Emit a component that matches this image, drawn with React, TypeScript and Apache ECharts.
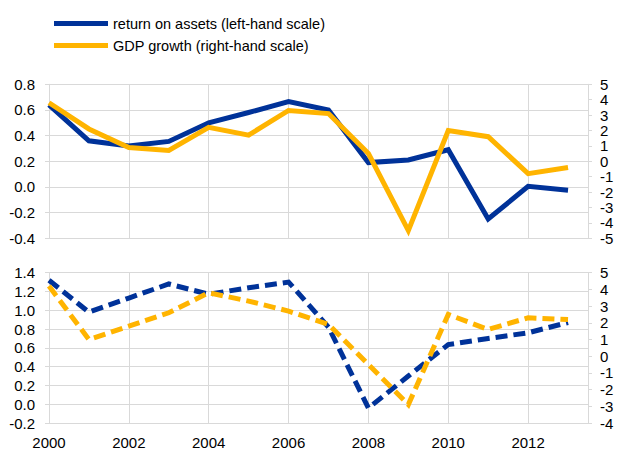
import React, { useEffect, useRef } from "react";
import * as echarts from "echarts";

const years = [2000, 2001, 2002, 2003, 2004, 2005, 2006, 2007, 2008, 2009, 2010, 2011, 2012, 2013];
const roaTop = [0.64, 0.36, 0.32, 0.355, 0.5, 0.58, 0.665, 0.6, 0.19, 0.21, 0.29, -0.25, 0.005, -0.025];
const gdpTop = [3.8, 2.1, 0.9, 0.7, 2.2, 1.7, 3.3, 3.1, 0.5, -4.5, 2.0, 1.6, -0.8, -0.4];
const roaBottom = [1.32, 0.98, 1.13, 1.28, 1.17, 1.24, 1.3, 0.82, -0.04, 0.3, 0.635, 0.7, 0.76, 0.87];
const gdpBottom = [4.2, 1.0, 1.8, 2.6, 3.8, 3.3, 2.7, 1.9, -0.5, -2.9, 2.5, 1.6, 2.3, 2.2];

const legendNames = ["return on assets (left-hand scale)", "GDP growth (right-hand scale)"];

const BLUE = "#003299";
const YELLOW = "#FFB400";
const GRID = "#d9d9d9";
const FONT = "Arial, 'Liberation Sans', sans-serif";

const pairs = (vals: number[]) => vals.map((v, i) => [years[i], v]);

export default function App() {
  const ref = useRef<HTMLDivElement>(null);
  useEffect(() => {
    if (!ref.current) return;
    const chart = echarts.init(ref.current, undefined, { renderer: "svg" });
    const label = { color: "#000", fontSize: 15, fontFamily: FONT };
    const xAxisBase = (gridIndex: number, showLabel: boolean) => ({
      type: "value",
      gridIndex,
      min: 2000,
      max: 2013.5,
      interval: 2,
      axisLine: { show: true, lineStyle: { color: GRID, width: 1 } },
      axisTick: { show: true, length: 4, lineStyle: { color: GRID } },
      splitLine: { show: true, lineStyle: { color: GRID, width: 1 } },
      axisLabel: {
        show: showLabel,
        ...label,
        margin: 12,
        formatter: (v: number) => (v % 2 === 0 ? String(v) : ""),
      },
    });
    const yLeft = (gridIndex: number, min: number, max: number) => ({
      type: "value",
      gridIndex,
      position: "left",
      min,
      max,
      interval: 0.2,
      axisLine: { show: true, lineStyle: { color: GRID } },
      axisTick: { show: true, length: 4, lineStyle: { color: GRID } },
      splitLine: { show: true, lineStyle: { color: GRID } },
      axisLabel: { ...label, margin: 14, formatter: (v: number) => v.toFixed(1) },
    });
    const yRight = (gridIndex: number, min: number, max: number) => ({
      type: "value",
      gridIndex,
      position: "right",
      min,
      max,
      interval: 1,
      axisLine: { show: true, lineStyle: { color: GRID } },
      axisTick: { show: true, length: 4, lineStyle: { color: GRID } },
      splitLine: { show: false },
      axisLabel: { ...label, margin: 12, formatter: (v: number) => String(Math.round(v)) },
    });
    const line = (name: string, data: number[][], color: string, xi: number, yi: number, dashed: boolean) => ({
      type: "line",
      name,
      data,
      xAxisIndex: xi,
      yAxisIndex: yi,
      symbol: "none",
      itemStyle: { color },
      lineStyle: { color, width: 5, type: dashed ? [12, 6] : "solid", join: "miter" },
      z: color === BLUE ? 3 : 4,
    });
    chart.setOption({
      animation: false,
      legend: {
        data: legendNames,
        orient: "vertical",
        left: 49,
        top: 11,
        icon: "rect",
        itemWidth: 54,
        itemHeight: 5,
        itemGap: 7,
        textStyle: { ...label, fontSize: 14.5 },
      },
      grid: [
        { left: 49, width: 539, top: 84.3, height: 154 },
        { left: 49, width: 539, top: 272.7, height: 153 },
      ],
      xAxis: [xAxisBase(0, false), xAxisBase(1, true)],
      yAxis: [yLeft(0, -0.4, 0.8), yRight(0, -5, 5), yLeft(1, -0.2, 1.4), yRight(1, -4, 5)],
      series: [
        line(legendNames[0], pairs(roaTop), BLUE, 0, 0, false),
        line(legendNames[1], pairs(gdpTop), YELLOW, 0, 1, false),
        line("roa2", pairs(roaBottom), BLUE, 1, 2, true),
        line("gdp2", pairs(gdpBottom), YELLOW, 1, 3, true),
      ],
    });
    return () => chart.dispose();
  }, []);
  return (
    <div
      ref={ref}
      style={{ position: "fixed", left: 0, top: 0, width: 617, height: 450, background: "#fff" }}
    />
  );
}
